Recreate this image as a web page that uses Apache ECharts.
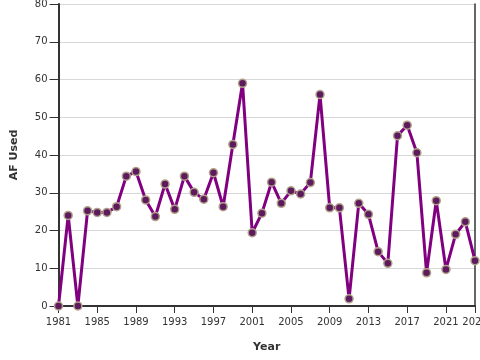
<!DOCTYPE html>
<html><head><meta charset="utf-8">
<script src="https://cdn.jsdelivr.net/npm/echarts@6/dist/echarts.min.js"></script>
<style>html,body{margin:0;padding:0;background:#fff}#c{width:480px;height:360px}</style>
</head><body><div id="c"></div>
<script>
const years = [1981,1982,1983,1984,1985,1986,1987,1988,1989,1990,1991,1992,1993,1994,1995,1996,1997,1998,1999,2000,2001,2002,2003,2004,2005,2006,2007,2008,2009,2010,2011,2012,2013,2014,2015,2016,2017,2018,2019,2020,2021,2022,2023,2024];
const afUsed = [0,24,0,25.2,24.8,24.8,26.3,34.4,35.6,28.1,23.7,32.3,25.6,34.4,30.1,28.3,35.3,26.3,42.8,59.0,19.4,24.6,32.8,27.2,30.5,29.7,32.7,56.0,26.0,26.0,1.9,27.2,24.3,14.4,11.3,45.1,47.9,40.6,8.8,27.9,9.7,19.0,22.3,12.0];
const yTicks = {min:0, max:80, step:10};

const chart = echarts.init(document.getElementById('c'), null, {renderer:'canvas'});
const lastIdx = years.length - 1;
const showIdx = (i) => i % 4 === 0 || i === lastIdx;
chart.setOption({
  animation:false,
  grid:{left:58.5, right:5, top:4, bottom:54, containLabel:false, outerBoundsMode:'none'},
  xAxis:{
    type:'category', data:years.map(String), boundaryGap:false,
    name:'Year', nameLocation:'middle', nameGap:36,
    nameTextStyle:{fontWeight:'bold', fontSize:11, color:'#333', fontFamily:'DejaVu Sans'},
    axisLine:{lineStyle:{color:'#333', width:2}},
    axisTick:{interval:(i)=>showIdx(i), length:7, lineStyle:{color:'#333', width:1}},
    axisLabel:{interval:(i)=>showIdx(i), color:'#333', fontSize:10, margin:11, fontFamily:'DejaVu Sans', showMaxLabel:true, hideOverlap:false},
    splitLine:{show:false}
  },
  yAxis:[{
    type:'value', min:yTicks.min, max:yTicks.max, interval:yTicks.step,
    name:'AF Used', nameLocation:'middle', nameGap:39,
    nameTextStyle:{fontWeight:'bold', fontSize:11, color:'#333', fontFamily:'DejaVu Sans'},
    axisLine:{show:true, lineStyle:{color:'#333', width:2}},
    axisTick:{show:true, length:9, lineStyle:{color:'#333'}},
    axisLabel:{color:'#333', fontSize:10, margin:11, fontFamily:'DejaVu Sans'},
    splitLine:{show:true, lineStyle:{color:'#d8d8d8', width:1}}
  },{
    type:'value', min:yTicks.min, max:yTicks.max, interval:yTicks.step, position:'right',
    axisLine:{show:true, lineStyle:{color:'#333', width:1.5}},
    axisTick:{show:false}, axisLabel:{show:false}, splitLine:{show:false}
  }],
  series:[{
    type:'line', data:afUsed, yAxisIndex:0,
    lineStyle:{color:'#800080', width:3},
    symbol:'circle', symbolSize:8, showSymbol:true, showAllSymbol:true,
    itemStyle:{color:'#5e1a5e', borderColor:'#b0a288', borderWidth:1.5},
    clip:false, z:3
  }]
});
</script></body></html>
